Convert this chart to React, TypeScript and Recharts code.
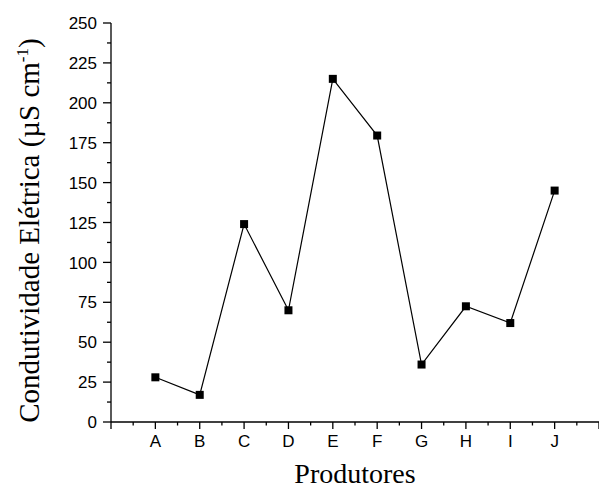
import { LineChart, Line, XAxis, YAxis } from 'recharts';

// Produtores A..J and their electrical conductivity (µS cm-1)
const producers = ['A', 'B', 'C', 'D', 'E', 'F', 'G', 'H', 'I', 'J'];
const conductivity = [28, 17, 124, 70, 215, 179.5, 36, 72.5, 62, 145];

// major + minor tick positions
const xTicks = [0, 0.5, 1, 1.5, 2, 2.5, 3, 3.5, 4, 4.5, 5, 5.5, 6, 6.5, 7, 7.5, 8, 8.5, 9, 9.5, 10, 10.5, 11];
const yTicks = [0, 12.5, 25, 37.5, 50, 62.5, 75, 87.5, 100, 112.5, 125, 137.5, 150, 162.5, 175, 187.5, 200, 212.5, 225, 237.5, 250];

const data = producers.map((p, i) => ({ pos: i + 1, name: p, value: conductivity[i] }));

const TICK_FONT = '"Liberation Sans", Arial, sans-serif';
const TITLE_FONT = '"Liberation Serif", "Times New Roman", serif';

function XTick(props: any) {
  const { x, y, payload } = props;
  const v = payload.value as number;
  const major = Number.isInteger(v);
  const label = major && v >= 1 && v <= producers.length ? producers[v - 1] : '';
  return (
    <g>
      <line x1={x} x2={x} y1={y} y2={y + (major ? 7 : 3.5)} stroke="#000" strokeWidth={1.3} />
      {label && (
        <text x={x} y={y + 25} textAnchor="middle" fontFamily={TICK_FONT} fontSize={17} fill="#000">
          {label}
        </text>
      )}
    </g>
  );
}

function YTick(props: any) {
  const { x, y, payload } = props;
  const v = payload.value as number;
  const major = v % 25 === 0;
  return (
    <g>
      <line x1={x - (major ? 8 : 4)} x2={x} y1={y} y2={y} stroke="#000" strokeWidth={1.3} />
      {major && (
        <text x={x - 14} y={y} dy="0.36em" textAnchor="end" fontFamily={TICK_FONT} fontSize={17} fill="#000">
          {v}
        </text>
      )}
    </g>
  );
}

function Square(props: any) {
  const { cx, cy } = props;
  if (cx == null || cy == null) return null;
  return <rect x={cx - 4} y={cy - 4} width={8} height={8} fill="#000" />;
}

export default function App() {
  return (
    <div style={{ position: 'absolute', left: 0, top: 0, width: 599, height: 491, background: '#fff' }}>
      <LineChart width={599} height={491} data={data} margin={{ top: 23, right: 0, bottom: 0, left: 0 }}>
        <XAxis
          dataKey="pos"
          type="number"
          domain={[0, 11]}
          ticks={xTicks}
          interval={0}
          tickSize={0}
          tickMargin={0}
          tickLine={false}
          tick={<XTick />}
          height={69}
          axisLine={{ stroke: '#000', strokeWidth: 1.3 }}
          label={{
            content: (p: any) => {
              const vb = p.viewBox;
              return (
                <text x={vb.x + vb.width / 2} y={vb.y + 61} textAnchor="middle" fontFamily={TITLE_FONT} fontSize={28} fill="#000">
                  Produtores
                </text>
              );
            },
          }}
        />
        <YAxis
          type="number"
          domain={[0, 250]}
          ticks={yTicks}
          interval={0}
          width={111}
          tickSize={0}
          tickMargin={0}
          tickLine={false}
          tick={<YTick />}
          axisLine={{ stroke: '#000', strokeWidth: 1.3 }}
          label={{
            content: (p: any) => {
              const vb = p.viewBox;
              const cx = 39;
              const cy = vb.y + vb.height / 2 + 8;
              return (
                <text
                  x={cx}
                  y={cy}
                  transform={`rotate(-90 ${cx} ${cy})`}
                  textAnchor="middle"
                  fontFamily={TITLE_FONT}
                  fontSize={29}
                  fill="#000"
                >
                  Condutividade Elétrica (µS cm
                  <tspan dy={-11} fontSize={17}>-1</tspan>
                  <tspan dy={11}>)</tspan>
                </text>
              );
            },
          }}
        />
        <Line
          dataKey="value"
          stroke="#000"
          strokeWidth={1.2}
          dot={<Square />}
          activeDot={false}
          isAnimationActive={false}
        />
      </LineChart>
    </div>
  );
}
